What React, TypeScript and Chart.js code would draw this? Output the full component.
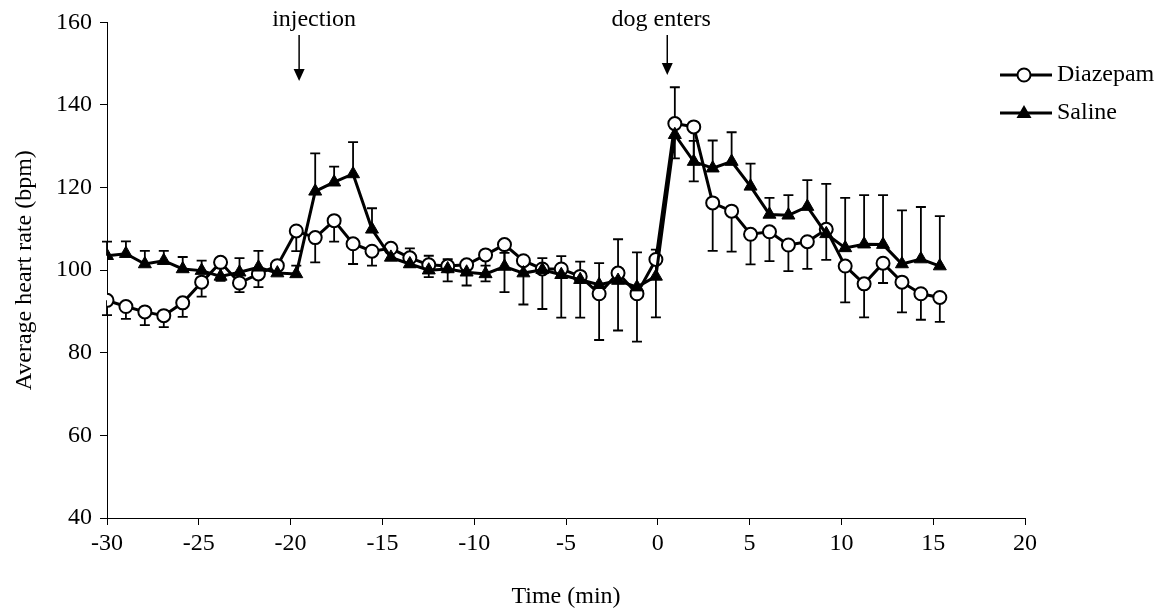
import React, { useEffect, useRef } from "react";
import { Chart, registerables } from "chart.js";

Chart.register(...registerables);

const timeMin = [-30, -29, -28, -27, -26, -25, -24, -23, -22, -21, -20, -19, -18, -17, -16, -15, -14, -13, -12, -11, -10, -9, -8, -7, -6, -5, -4, -3, -2, -1, 0, 1, 2, 3, 4, 5, 6, 7, 8, 9, 10, 11, 12, 13, 14];

const diazepam = [92.7, 91.2, 89.9, 89.0, 92.1, 97.1, 101.9, 96.9, 99.1, 101.1, 109.5, 107.9, 112.0, 106.4, 104.6, 105.3, 103.0, 101.3, 101.0, 101.3, 103.7, 106.2, 102.3, 100.3, 100.3, 98.5, 94.3, 99.3, 94.3, 102.6, 135.5, 134.7, 116.3, 114.3, 108.7, 109.3, 106.1, 106.9, 109.9, 101.0, 96.7, 101.7, 97.1, 94.3, 93.4];
const diazepamErrMinus = [3.6, 3.0, 3.2, 2.8, 3.4, 3.5, 4.5, 2.2, 3.2, 2.0, 4.9, 6.0, 5.1, 4.9, 3.5, 2.8, 2.2, 3.0, 3.7, 5.0, 6.4, 11.5, 10.6, 9.7, 11.8, 10.0, 11.2, 13.9, 11.6, 14.0, 8.4, 13.2, 11.6, 9.8, 7.3, 7.1, 6.3, 6.6, 7.4, 8.8, 8.1, 4.8, 7.3, 6.3, 5.9];

const saline = [103.5, 104.0, 101.5, 102.3, 100.3, 99.9, 98.5, 99.5, 100.7, 99.3, 99.1, 119.1, 121.3, 123.3, 109.9, 103.1, 101.5, 100.0, 100.3, 99.5, 99.1, 100.9, 99.3, 100.1, 98.9, 97.7, 96.5, 97.5, 95.9, 98.5, 132.8, 126.3, 124.7, 126.3, 120.3, 113.5, 113.3, 115.4, 108.8, 105.4, 106.3, 106.2, 101.5, 102.7, 101.0];
const salineErrPlus = [3.4, 3.0, 3.2, 2.4, 2.9, 2.4, 2.0, 3.4, 4.0, 2.5, 2.0, 9.2, 3.8, 7.7, 5.1, 2.8, 3.8, 3.5, 2.4, 2.0, 2.0, 3.3, 2.0, 2.8, 4.5, 4.4, 5.2, 10.0, 8.4, 6.5, 11.5, 5.0, 6.7, 7.1, 5.5, 4.0, 4.9, 6.4, 12.1, 12.1, 11.9, 12.0, 13.0, 12.6, 12.1];

const seriesNames = ["Diazepam", "Saline"];
const annotationLabels = ["injection", "dog enters"];
const annotationTimes = [-19.85, -0.4];

// axis ranges
const xAxisMin = -30;
const xAxisMax = 20;
const dataAxisMax = 18.5; // point spacing in the reference is slightly wider than the axis minutes
const yAxisMin = 40;
const yAxisMax = 160;

const FONT = "'Liberation Serif', 'Times New Roman', serif";

const errorBarPlugin = {
  id: "errorBars",
  beforeDatasetsDraw(chart: any) {
    const { ctx, scales } = chart;
    const xs = scales.xData;
    const ys = scales.y;
    ctx.save();
    ctx.strokeStyle = "#000";
    ctx.lineWidth = 1.8;
    const cap = 5;
    const drawBar = (t: number, v: number, end: number) => {
      const px = xs.getPixelForValue(t);
      const p1 = ys.getPixelForValue(v);
      const p2 = ys.getPixelForValue(end);
      ctx.beginPath();
      ctx.moveTo(px, p1);
      ctx.lineTo(px, p2);
      ctx.moveTo(px - cap, p2);
      ctx.lineTo(px + cap, p2);
      ctx.stroke();
    };
    timeMin.forEach((t, i) => {
      drawBar(t, diazepam[i], diazepam[i] - diazepamErrMinus[i]);
      drawBar(t, saline[i], saline[i] + salineErrPlus[i]);
    });
    ctx.restore();
  },
};

const annotationPlugin = {
  id: "annotationsAndLegend",
  afterDraw(chart: any) {
    const { ctx, scales } = chart;
    const xs = scales.xData;
    ctx.save();
    ctx.fillStyle = "#000";
    ctx.strokeStyle = "#000";
    ctx.font = `24px ${FONT}`;
    ctx.textAlign = "center";
    ctx.textBaseline = "middle";
    const textOffsets = [15, -6];
    const arrowEnds = [81, 75];
    annotationTimes.forEach((t, i) => {
      const px = xs.getPixelForValue(t);
      ctx.fillText(annotationLabels[i], px + textOffsets[i], 20);
      ctx.lineWidth = 1.5;
      ctx.beginPath();
      ctx.moveTo(px, 35);
      ctx.lineTo(px, arrowEnds[i] - 10);
      ctx.stroke();
      ctx.beginPath();
      ctx.moveTo(px - 5.5, arrowEnds[i] - 12);
      ctx.lineTo(px + 5.5, arrowEnds[i] - 12);
      ctx.lineTo(px, arrowEnds[i]);
      ctx.closePath();
      ctx.fill();
    });

    // legend
    const rows = [75, 113];
    ctx.textAlign = "left";
    rows.forEach((y, i) => {
      ctx.lineWidth = 3;
      ctx.beginPath();
      ctx.moveTo(1000, y);
      ctx.lineTo(1052, y);
      ctx.stroke();
      const mx = 1024;
      if (i === 0) {
        ctx.beginPath();
        ctx.arc(mx, y, 6.5, 0, Math.PI * 2);
        ctx.fillStyle = "#fff";
        ctx.fill();
        ctx.lineWidth = 2;
        ctx.stroke();
      } else {
        ctx.fillStyle = "#000";
        ctx.beginPath();
        ctx.moveTo(mx, y - 8);
        ctx.lineTo(mx + 7.5, y + 5);
        ctx.lineTo(mx - 7.5, y + 5);
        ctx.closePath();
        ctx.fill();
      }
      ctx.fillStyle = "#000";
      ctx.fillText(seriesNames[i], 1057, y);
    });
    ctx.restore();
  },
};

export default function App() {
  const canvasRef = useRef<HTMLCanvasElement | null>(null);

  useEffect(() => {
    if (!canvasRef.current) return;
    const chart = new Chart(canvasRef.current, {
      type: "line",
      data: {
        datasets: [
          {
            label: seriesNames[0],
            data: timeMin.map((t, i) => ({ x: t, y: diazepam[i] })),
            xAxisID: "xData",
            borderColor: "#000",
            borderWidth: 3,
            pointStyle: "circle",
            pointRadius: 6.5,
            pointBorderWidth: 2,
            pointBackgroundColor: "#fff",
            pointBorderColor: "#000",
            tension: 0,
            order: 2,
          },
          {
            label: seriesNames[1],
            data: timeMin.map((t, i) => ({ x: t, y: saline[i] })),
            xAxisID: "xData",
            borderColor: "#000",
            borderWidth: 3,
            pointStyle: "triangle",
            pointRadius: 7.5,
            pointBorderWidth: 1,
            pointBackgroundColor: "#000",
            pointBorderColor: "#000",
            tension: 0,
            order: 1,
          },
        ],
      },
      options: {
        responsive: false,
        animation: false,
        devicePixelRatio: 1,
        layout: { padding: { left: 0, top: 18, right: 144, bottom: 0 } },
        plugins: {
          legend: { display: false },
          tooltip: { enabled: false },
        },
        scales: {
          xData: {
            type: "linear",
            position: "bottom",
            display: false,
            min: xAxisMin,
            max: dataAxisMax,
          },
          x: {
            type: "linear",
            position: "bottom",
            min: xAxisMin,
            max: xAxisMax,
            afterFit: (s: any) => {
              s.height = 98;
            },
            ticks: {
              stepSize: 5,
              color: "#000",
              font: { family: FONT, size: 24 },
              padding: 4,
              maxRotation: 0,
            },
            grid: { drawOnChartArea: false, drawTicks: true, tickLength: 7, color: "#000", lineWidth: 1 },
            border: { color: "#000", width: 1 },
            title: {
              display: true,
              text: "Time (min)",
              color: "#000",
              font: { family: FONT, size: 24 },
              padding: { top: 0, bottom: 5 },
            },
          },
          y: {
            min: yAxisMin,
            max: yAxisMax,
            afterFit: (s: any) => {
              s.width = 107;
            },
            ticks: {
              stepSize: 20,
              color: "#000",
              font: { family: FONT, size: 24 },
              padding: 8,
            },
            grid: { drawOnChartArea: false, drawTicks: true, tickLength: 7, color: "#000", lineWidth: 1 },
            border: { color: "#000", width: 1 },
            title: {
              display: true,
              text: "Average heart rate (bpm)",
              color: "#000",
              font: { family: FONT, size: 24 },
              padding: { top: 10, bottom: 0 },
            },
          },
        },
      },
      plugins: [errorBarPlugin, annotationPlugin],
    });
    return () => chart.destroy();
  }, []);

  return (
    <div style={{ position: "fixed", left: 0, top: 0, width: 1169, height: 616, background: "#fff" }}>
      <canvas ref={canvasRef} width={1169} height={616} style={{ width: 1169, height: 616, display: "block" }} />
    </div>
  );
}
